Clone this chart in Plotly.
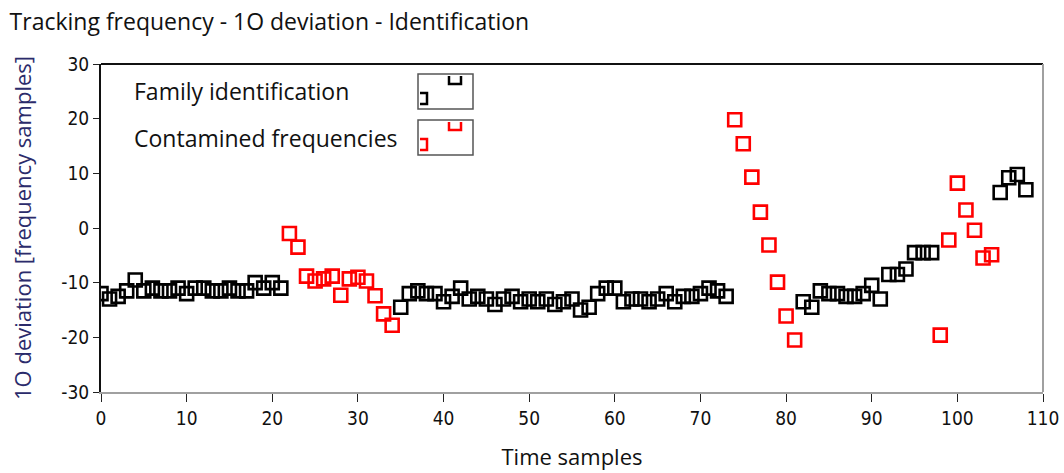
import plotly.graph_objects as go

# Black series: "Family identification"
fam_x = list(range(0, 22)) + list(range(35, 74)) + list(range(82, 98)) + list(range(105, 109))
fam_y = [-12, -13, -12.5, -11.5, -9.5, -11.5, -11, -11.5, -11.5, -11, -12, -11, -11, -11.5, -11.5, -11, -11.5, -11.5, -10, -11, -10, -11,
         -14.5, -12, -11.5, -12, -12, -13.5, -12.5, -11, -13, -12.5, -13, -14, -13, -12.5, -13.5, -13, -13.5, -13, -14, -13.5, -13, -15, -14.5, -12, -11, -11, -13.5, -13, -13, -13.5, -13, -12, -13.5, -12.5, -12.5, -12, -11, -11.5, -12.5,
         -13.5, -14.5, -11.5, -12, -12, -12.5, -12.5, -12, -10.5, -13, -8.5, -8.5, -7.5, -4.5, -4.5, -4.5,
         6.5, 9.2, 9.8, 7]

# Red series: "Contamined frequencies"
con_x = list(range(22, 35)) + list(range(74, 82)) + list(range(98, 105))
con_y = [-1, -3.5, -8.8, -9.7, -9.3, -8.8, -12.3, -9.3, -9, -9.7, -12.4, -15.7, -17.8,
         19.8, 15.4, 9.3, 2.9, -3.1, -9.9, -16.1, -20.5,
         -19.6, -2.2, 8.2, 3.3, -0.4, -5.5, -4.9]

x_ticks = list(range(0, 111, 10))
y_ticks = list(range(-30, 31, 10))
y_tick_text = [str(v) for v in y_ticks]

TICKFONT = "DejaVu Sans Condensed, Liberation Sans, sans-serif"
TEXTFONT = "Open Sans, sans-serif"

fig = go.Figure()
fig.add_trace(go.Scatter(x=fam_x, y=fam_y, mode="markers", name="Family identification",
                         marker=dict(symbol="square-open", size=13, color="black", line=dict(width=2.6, color="black"))))
fig.add_trace(go.Scatter(x=con_x, y=con_y, mode="markers", name="Contamined frequencies",
                         marker=dict(symbol="square-open", size=13, color="red", line=dict(width=2.6, color="red"))))

fig.update_layout(
    width=1064, height=473,
    margin=dict(l=101, r=21, t=64, b=81, autoexpand=False),
    paper_bgcolor="white", plot_bgcolor="white",
    showlegend=False,
    font=dict(family=TICKFONT, size=19, color="#111"),
    title=dict(text="Tracking frequency - 1O deviation - Identification", x=0.009, xanchor="left",
               y=0.953, yanchor="middle", font=dict(family=TEXTFONT, size=23, color="#111")),
)
fig.update_xaxes(range=[0, 110], tickvals=x_ticks, ticks="outside", ticklen=8, tickcolor="#222", tickwidth=1,
                 tickfont=dict(family=TICKFONT, size=19, color="#111"), automargin=False,
                 showgrid=False, zeroline=False, showline=True, linecolor="#a0a0a0", linewidth=2,
                 title=dict(text="Time samples", font=dict(family=TEXTFONT, size=22, color="#111"), standoff=22))
fig.update_yaxes(range=[-30, 30], tickvals=y_ticks, ticktext=y_tick_text, ticks="outside", ticklen=6, tickcolor="#222", tickwidth=1,
                 tickfont=dict(family=TICKFONT, size=19, color="#111"), automargin=False,
                 showgrid=False, zeroline=False, showline=True, linecolor="#111", linewidth=2,
                 title=dict(text="1O deviation [frequency samples]", font=dict(family=TEXTFONT, size=22, color="#2b2b6b"), standoff=24))

# top and right frame
fig.add_shape(type="line", xref="paper", yref="paper", x0=0, x1=1, y0=1, y1=1, line=dict(color="#111", width=2))
fig.add_shape(type="line", xref="paper", yref="paper", x0=1, x1=1, y0=0, y1=1, line=dict(color="#a0a0a0", width=2))

# legend (text left, symbol box right) in pixel-derived paper coords
W = 1064 - 101 - 21
H = 473 - 64 - 81
def px(x):
    return (x - 101) / W
def py(y):
    return 1 - (y - 64) / H

legend = [("Family identification", 91, 74, "black"), ("Contamined frequencies", 138, 120, "red")]
for text, ty, by, col in legend:
    fig.add_annotation(text=text, xref="paper", yref="paper", x=px(132), y=py(ty), xanchor="left", yanchor="middle",
                       showarrow=False, font=dict(family=TEXTFONT, size=23, color="#111"))
    fig.add_shape(type="rect", xref="paper", yref="paper", x0=px(418), x1=px(473), y0=py(by), y1=py(by + 35),
                  line=dict(color="#555", width=1.5), fillcolor="white")
    # clipped square glyphs
    fig.add_shape(type="path", xref="paper", yref="paper",
                  path=f"M {px(420)} {py(by+19)} L {px(427)} {py(by+19)} L {px(427)} {py(by+30)} L {px(420)} {py(by+30)}",
                  line=dict(color=col, width=2.5))
    fig.add_shape(type="path", xref="paper", yref="paper",
                  path=f"M {px(449)} {py(by+2)} L {px(449)} {py(by+10)} L {px(461)} {py(by+10)} L {px(461)} {py(by+2)}",
                  line=dict(color=col, width=2.5))

fig.write_html("out.html")
